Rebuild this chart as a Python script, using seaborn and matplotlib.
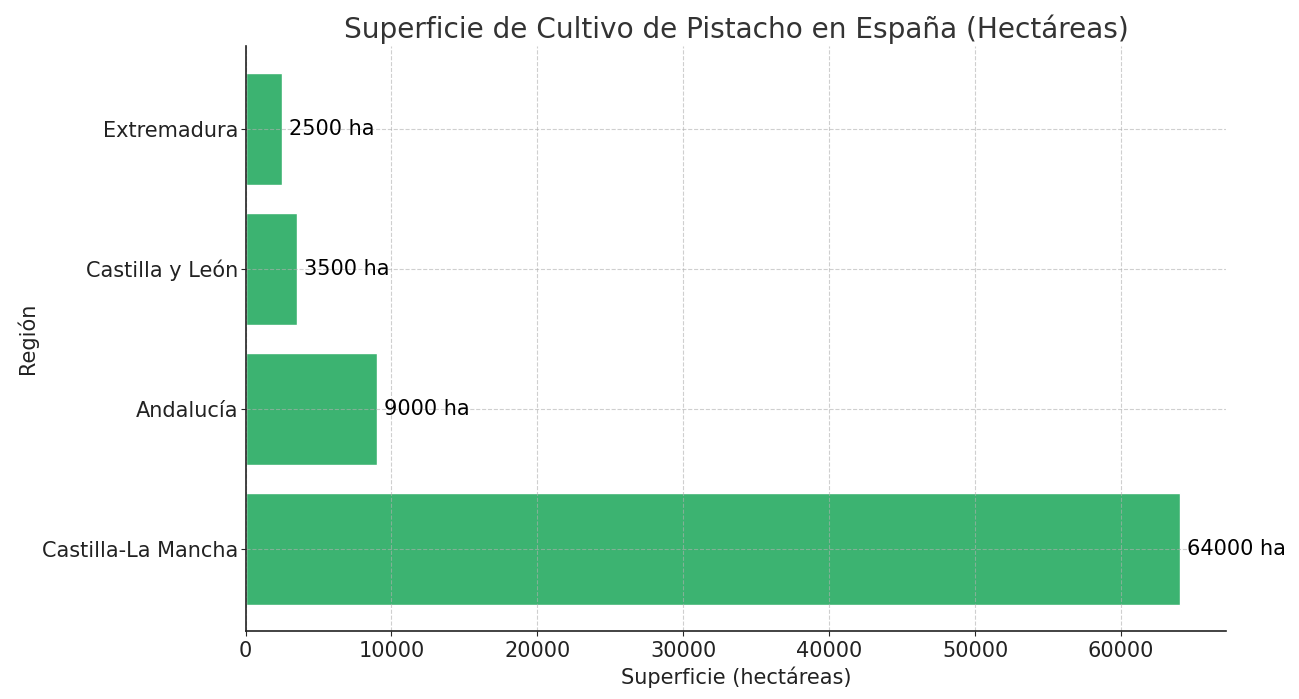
import pandas as pd
import seaborn as sns
import matplotlib.pyplot as plt

# data
regions = ["Extremadura", "Castilla y León", "Andalucía", "Castilla-La Mancha"]
hectares = [2500, 3500, 9000, 64000]

df = pd.DataFrame({"region": regions, "ha": hectares})

sns.set_style("ticks")
plt.rcParams["font.family"] = ["DejaVu Sans"]

fig, ax = plt.subplots(figsize=(12.99, 6.99), dpi=100)
sns.barplot(data=df, x="ha", y="region", color="mediumseagreen", saturation=1,
            width=0.8, ax=ax, zorder=1)

# value labels
for i, v in enumerate(df["ha"]):
    ax.text(v + 500, i, f"{v} ha", va="center", ha="left", fontsize=15, color="black")

ax.set_xlim(0, 67200)
ax.set_ylim(3.59, -0.59)
ax.set_axisbelow(False)
ax.grid(True, linestyle="--", color="#b0b0b0", linewidth=0.8, alpha=0.6, zorder=3)
sns.despine(ax=ax)
for s in ["left", "bottom"]:
    ax.spines[s].set_linewidth(1.2)
    ax.spines[s].set_color("#222222")
    ax.spines[s].set_zorder(5)

ax.set_title("Superficie de Cultivo de Pistacho en España (Hectáreas)", fontsize=20.2, color="#333333")
ax.set_xlabel("Superficie (hectáreas)", fontsize=15, color="#222222")
ax.set_ylabel("Región", fontsize=15, color="#222222", labelpad=3)
ax.tick_params(labelsize=15, labelcolor="#222222")
ax.tick_params(axis="y", pad=1.5)

plt.subplots_adjust(left=0.189, right=0.944, top=0.934, bottom=0.097)
plt.savefig("out.png", dpi=100)
